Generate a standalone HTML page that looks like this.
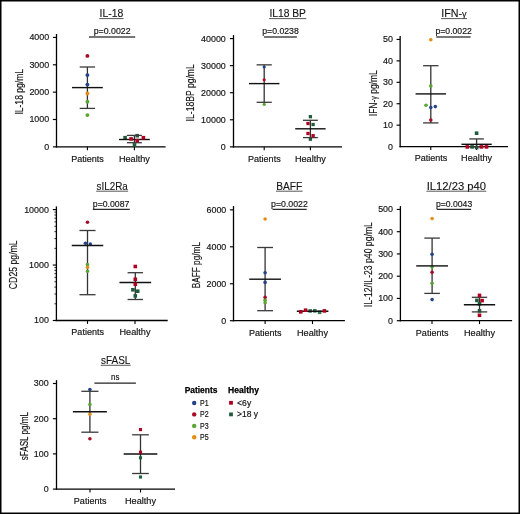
<!DOCTYPE html>
<html><head><meta charset="utf-8"><style>
html,body{margin:0;padding:0;background:#fff;}
body{width:520px;height:514px;overflow:hidden;font-family:"Liberation Sans",sans-serif;}
svg{display:block;will-change:transform;}
</style></head><body>
<svg width="520" height="514" viewBox="0 0 520 514" font-family="'Liberation Sans', sans-serif">
<rect x="0" y="0" width="520" height="514" fill="#fff"/>
<text x="111.45" y="17.3" font-size="10.5" text-anchor="middle" textLength="23.7" lengthAdjust="spacingAndGlyphs" fill="#141414" stroke="#141414" stroke-width="0.12" >IL-18</text>
<line x1="99.3" y1="18.6" x2="123.6" y2="18.6" stroke="#444" stroke-width="0.9"/>
<text x="112.15" y="33.7" font-size="9.8" text-anchor="middle" textLength="36.9" lengthAdjust="spacingAndGlyphs" fill="#141414" stroke="#141414" stroke-width="0.18" >p=0.0022</text>
<line x1="89.0" y1="36.95" x2="135.2" y2="36.95" stroke="#4a4a4a" stroke-width="1.6"/>
<line x1="56.5" y1="34.0" x2="56.5" y2="147.5" stroke="#000" stroke-width="1.3"/>
<line x1="55.85" y1="146.85" x2="165.6" y2="146.85" stroke="#000" stroke-width="1.3"/>
<line x1="52.9" y1="37.45" x2="56.5" y2="37.45" stroke="#000" stroke-width="1.15"/>
<text x="49.2" y="40.35" font-size="9.5" text-anchor="end" textLength="19.8" lengthAdjust="spacingAndGlyphs" fill="#141414" stroke="#141414" stroke-width="0.18" >4000</text>
<line x1="52.9" y1="64.8" x2="56.5" y2="64.8" stroke="#000" stroke-width="1.15"/>
<text x="49.2" y="67.7" font-size="9.5" text-anchor="end" textLength="19.8" lengthAdjust="spacingAndGlyphs" fill="#141414" stroke="#141414" stroke-width="0.18" >3000</text>
<line x1="52.9" y1="92.15" x2="56.5" y2="92.15" stroke="#000" stroke-width="1.15"/>
<text x="49.2" y="95.05" font-size="9.5" text-anchor="end" textLength="19.8" lengthAdjust="spacingAndGlyphs" fill="#141414" stroke="#141414" stroke-width="0.18" >2000</text>
<line x1="52.9" y1="119.5" x2="56.5" y2="119.5" stroke="#000" stroke-width="1.15"/>
<text x="49.2" y="122.4" font-size="9.5" text-anchor="end" textLength="19.8" lengthAdjust="spacingAndGlyphs" fill="#141414" stroke="#141414" stroke-width="0.18" >1000</text>
<line x1="52.9" y1="146.85" x2="56.5" y2="146.85" stroke="#000" stroke-width="1.15"/>
<text x="49.2" y="149.75" font-size="9.5" text-anchor="end" textLength="4.95" lengthAdjust="spacingAndGlyphs" fill="#141414" stroke="#141414" stroke-width="0.18" >0</text>
<line x1="87.4" y1="146.85" x2="87.4" y2="150.25" stroke="#000" stroke-width="1.1"/>
<line x1="134.4" y1="146.85" x2="134.4" y2="150.25" stroke="#000" stroke-width="1.1"/>
<text x="87.55" y="161.7" font-size="9.4" text-anchor="middle" textLength="32.6" lengthAdjust="spacingAndGlyphs" fill="#141414" stroke="#141414" stroke-width="0.18" >Patients</text>
<text x="134.4" y="161.7" font-size="9.4" text-anchor="middle" textLength="31.0" lengthAdjust="spacingAndGlyphs" fill="#141414" stroke="#141414" stroke-width="0.18" >Healthy</text>
<text class="yl" transform="translate(22.6,91.8) rotate(-90)" x="0" y="0" font-size="11.2" text-anchor="middle" textLength="45.6" lengthAdjust="spacingAndGlyphs" fill="#141414" stroke="#141414" stroke-width="0.18">IL-18 pg/mL</text>
<line x1="87.4" y1="67.0" x2="87.4" y2="108.4" stroke="#333" stroke-width="1.3"/>
<line x1="134.4" y1="135.4" x2="134.4" y2="142.7" stroke="#333" stroke-width="1.3"/>
<circle cx="87.4" cy="55.9" r="1.95" fill="#a80c26"/>
<circle cx="87.4" cy="75.1" r="1.95" fill="#23438a"/>
<circle cx="87.4" cy="84.6" r="1.95" fill="#23438a"/>
<circle cx="87.4" cy="93.5" r="1.95" fill="#e58c14"/>
<circle cx="87.4" cy="101.7" r="1.95" fill="#58a531"/>
<circle cx="87.4" cy="115.1" r="1.95" fill="#58a531"/>
<rect x="123.30" y="135.90" width="3.6" height="3.6" fill="#1f5c3c"/>
<rect x="135.40" y="133.90" width="3.6" height="3.6" fill="#1f5c3c"/>
<rect x="132.70" y="143.10" width="3.6" height="3.6" fill="#1f5c3c"/>
<line x1="79.7" y1="67.0" x2="95.1" y2="67.0" stroke="#3a3a3a" stroke-width="1.3"/>
<line x1="79.7" y1="108.4" x2="95.1" y2="108.4" stroke="#3a3a3a" stroke-width="1.3"/>
<line x1="72.0" y1="87.6" x2="102.8" y2="87.6" stroke="#111" stroke-width="1.4"/>
<line x1="126.9" y1="135.4" x2="141.9" y2="135.4" stroke="#3a3a3a" stroke-width="1.3"/>
<line x1="126.9" y1="142.7" x2="141.9" y2="142.7" stroke="#3a3a3a" stroke-width="1.3"/>
<line x1="119.0" y1="139.5" x2="149.8" y2="139.5" stroke="#111" stroke-width="1.4"/>
<rect x="129.30" y="137.10" width="3.6" height="3.6" fill="#b00020"/>
<rect x="135.40" y="138.80" width="3.6" height="3.6" fill="#b00020"/>
<rect x="141.60" y="135.90" width="3.6" height="3.6" fill="#b00020"/>
<text x="287.7" y="17.3" font-size="10.5" text-anchor="middle" textLength="36.6" lengthAdjust="spacingAndGlyphs" fill="#141414" stroke="#141414" stroke-width="0.12" >IL18 BP</text>
<line x1="269.1" y1="18.6" x2="306.3" y2="18.6" stroke="#444" stroke-width="0.9"/>
<text x="280.5" y="33.7" font-size="9.8" text-anchor="middle" textLength="36.6" lengthAdjust="spacingAndGlyphs" fill="#141414" stroke="#141414" stroke-width="0.18" >p=0.0238</text>
<line x1="264.0" y1="36.95" x2="296.9" y2="36.95" stroke="#4a4a4a" stroke-width="1.6"/>
<line x1="233.5" y1="35.1" x2="233.5" y2="147.5" stroke="#000" stroke-width="1.3"/>
<line x1="232.85" y1="146.85" x2="342.0" y2="146.85" stroke="#000" stroke-width="1.3"/>
<line x1="229.9" y1="38.6" x2="233.5" y2="38.6" stroke="#000" stroke-width="1.15"/>
<text x="225.8" y="41.5" font-size="9.5" text-anchor="end" textLength="24.75" lengthAdjust="spacingAndGlyphs" fill="#141414" stroke="#141414" stroke-width="0.18" >40000</text>
<line x1="229.9" y1="65.66" x2="233.5" y2="65.66" stroke="#000" stroke-width="1.15"/>
<text x="225.8" y="68.56" font-size="9.5" text-anchor="end" textLength="24.75" lengthAdjust="spacingAndGlyphs" fill="#141414" stroke="#141414" stroke-width="0.18" >30000</text>
<line x1="229.9" y1="92.72" x2="233.5" y2="92.72" stroke="#000" stroke-width="1.15"/>
<text x="225.8" y="95.62" font-size="9.5" text-anchor="end" textLength="24.75" lengthAdjust="spacingAndGlyphs" fill="#141414" stroke="#141414" stroke-width="0.18" >20000</text>
<line x1="229.9" y1="119.79" x2="233.5" y2="119.79" stroke="#000" stroke-width="1.15"/>
<text x="225.8" y="122.69" font-size="9.5" text-anchor="end" textLength="24.75" lengthAdjust="spacingAndGlyphs" fill="#141414" stroke="#141414" stroke-width="0.18" >10000</text>
<line x1="229.9" y1="146.85" x2="233.5" y2="146.85" stroke="#000" stroke-width="1.15"/>
<text x="225.8" y="149.75" font-size="9.5" text-anchor="end" textLength="4.95" lengthAdjust="spacingAndGlyphs" fill="#141414" stroke="#141414" stroke-width="0.18" >0</text>
<line x1="264.2" y1="146.85" x2="264.2" y2="150.25" stroke="#000" stroke-width="1.1"/>
<line x1="310.4" y1="146.85" x2="310.4" y2="150.25" stroke="#000" stroke-width="1.1"/>
<text x="264.35" y="161.7" font-size="9.4" text-anchor="middle" textLength="32.6" lengthAdjust="spacingAndGlyphs" fill="#141414" stroke="#141414" stroke-width="0.18" >Patients</text>
<text x="310.4" y="161.7" font-size="9.4" text-anchor="middle" textLength="31.0" lengthAdjust="spacingAndGlyphs" fill="#141414" stroke="#141414" stroke-width="0.18" >Healthy</text>
<text class="yl" transform="translate(194.4,92.80000000000001) rotate(-90)" x="0" y="0" font-size="11.2" text-anchor="middle" textLength="57.2" lengthAdjust="spacingAndGlyphs" fill="#141414" stroke="#141414" stroke-width="0.18">IL-18BP pg/mL</text>
<line x1="264.2" y1="64.85" x2="264.2" y2="102.3" stroke="#333" stroke-width="1.3"/>
<line x1="310.4" y1="120.3" x2="310.4" y2="137.6" stroke="#333" stroke-width="1.3"/>
<circle cx="264.2" cy="67.0" r="1.6" fill="#23438a"/>
<circle cx="264.2" cy="79.8" r="1.6" fill="#a80c26"/>
<circle cx="264.2" cy="104.3" r="1.6" fill="#58a531"/>
<rect x="308.75" y="115.05" width="3.3" height="3.3" fill="#1f5c3c"/>
<rect x="311.45" y="122.85" width="3.3" height="3.3" fill="#1f5c3c"/>
<rect x="308.75" y="137.55" width="3.3" height="3.3" fill="#1f5c3c"/>
<line x1="256.6" y1="64.85" x2="271.8" y2="64.85" stroke="#3a3a3a" stroke-width="1.3"/>
<line x1="256.6" y1="102.3" x2="271.8" y2="102.3" stroke="#3a3a3a" stroke-width="1.3"/>
<line x1="248.95" y1="83.6" x2="279.45" y2="83.6" stroke="#111" stroke-width="1.4"/>
<line x1="302.95" y1="120.3" x2="317.85" y2="120.3" stroke="#3a3a3a" stroke-width="1.3"/>
<line x1="302.95" y1="137.6" x2="317.85" y2="137.6" stroke="#3a3a3a" stroke-width="1.3"/>
<line x1="295.2" y1="128.8" x2="325.6" y2="128.8" stroke="#111" stroke-width="1.4"/>
<rect x="306.35" y="121.85" width="3.3" height="3.3" fill="#b00020"/>
<rect x="306.35" y="131.85" width="3.3" height="3.3" fill="#b00020"/>
<rect x="311.45" y="134.05" width="3.3" height="3.3" fill="#b00020"/>
<text x="454.0" y="17.3" font-size="10.5" text-anchor="middle" textLength="25.4" lengthAdjust="spacingAndGlyphs" fill="#141414" stroke="#141414" stroke-width="0.12" >IFN-<tspan font-size="9">γ</tspan></text>
<line x1="441.0" y1="18.6" x2="467.0" y2="18.6" stroke="#444" stroke-width="0.9"/>
<text x="453.65" y="33.7" font-size="9.8" text-anchor="middle" textLength="36.3" lengthAdjust="spacingAndGlyphs" fill="#141414" stroke="#141414" stroke-width="0.18" >p=0.0022</text>
<line x1="436.3" y1="36.95" x2="470.6" y2="36.95" stroke="#4a4a4a" stroke-width="1.6"/>
<line x1="400.15" y1="36.0" x2="400.15" y2="147.25" stroke="#000" stroke-width="1.3"/>
<line x1="399.5" y1="146.6" x2="508.1" y2="146.6" stroke="#000" stroke-width="1.3"/>
<line x1="396.55" y1="39.45" x2="400.15" y2="39.45" stroke="#000" stroke-width="1.15"/>
<text x="393.0" y="42.35" font-size="9.5" text-anchor="end" textLength="9.9" lengthAdjust="spacingAndGlyphs" fill="#141414" stroke="#141414" stroke-width="0.18" >50</text>
<line x1="396.55" y1="60.88" x2="400.15" y2="60.88" stroke="#000" stroke-width="1.15"/>
<text x="393.0" y="63.78" font-size="9.5" text-anchor="end" textLength="9.9" lengthAdjust="spacingAndGlyphs" fill="#141414" stroke="#141414" stroke-width="0.18" >40</text>
<line x1="396.55" y1="82.31" x2="400.15" y2="82.31" stroke="#000" stroke-width="1.15"/>
<text x="393.0" y="85.21" font-size="9.5" text-anchor="end" textLength="9.9" lengthAdjust="spacingAndGlyphs" fill="#141414" stroke="#141414" stroke-width="0.18" >30</text>
<line x1="396.55" y1="103.74" x2="400.15" y2="103.74" stroke="#000" stroke-width="1.15"/>
<text x="393.0" y="106.64" font-size="9.5" text-anchor="end" textLength="9.9" lengthAdjust="spacingAndGlyphs" fill="#141414" stroke="#141414" stroke-width="0.18" >20</text>
<line x1="396.55" y1="125.17" x2="400.15" y2="125.17" stroke="#000" stroke-width="1.15"/>
<text x="393.0" y="128.07" font-size="9.5" text-anchor="end" textLength="9.9" lengthAdjust="spacingAndGlyphs" fill="#141414" stroke="#141414" stroke-width="0.18" >10</text>
<text x="393.0" y="149.5" font-size="9.5" text-anchor="end" textLength="4.95" lengthAdjust="spacingAndGlyphs" fill="#141414" stroke="#141414" stroke-width="0.18" >0</text>
<line x1="430.8" y1="146.6" x2="430.8" y2="150.0" stroke="#000" stroke-width="1.1"/>
<line x1="476.6" y1="146.6" x2="476.6" y2="150.0" stroke="#000" stroke-width="1.1"/>
<text x="430.95" y="161.45" font-size="9.4" text-anchor="middle" textLength="32.6" lengthAdjust="spacingAndGlyphs" fill="#141414" stroke="#141414" stroke-width="0.18" >Patients</text>
<text x="476.6" y="161.45" font-size="9.4" text-anchor="middle" textLength="31.0" lengthAdjust="spacingAndGlyphs" fill="#141414" stroke="#141414" stroke-width="0.18" >Healthy</text>
<text class="yl" transform="translate(376.5,93.25) rotate(-90)" x="0" y="0" font-size="11.2" text-anchor="middle" textLength="45.9" lengthAdjust="spacingAndGlyphs" fill="#141414" stroke="#141414" stroke-width="0.18">IFN-<tspan font-size="9.5">γ</tspan> pg/mL</text>
<line x1="430.8" y1="65.7" x2="430.8" y2="122.9" stroke="#333" stroke-width="1.3"/>
<line x1="476.6" y1="138.9" x2="476.6" y2="146.8" stroke="#333" stroke-width="1.3"/>
<circle cx="430.8" cy="39.7" r="1.8" fill="#e58c14"/>
<circle cx="430.8" cy="85.9" r="1.8" fill="#58a531"/>
<circle cx="426.0" cy="105.2" r="1.8" fill="#58a531"/>
<circle cx="430.8" cy="107.5" r="1.8" fill="#23438a"/>
<circle cx="435.3" cy="106.6" r="1.8" fill="#23438a"/>
<circle cx="430.8" cy="120.0" r="1.8" fill="#a80c26"/>
<rect x="474.80" y="131.40" width="3.6" height="3.6" fill="#1f5c3c"/>
<rect x="470.30" y="145.10" width="3.6" height="3.6" fill="#1f5c3c"/>
<rect x="474.80" y="145.70" width="3.6" height="3.6" fill="#1f5c3c"/>
<line x1="423.1" y1="65.7" x2="438.5" y2="65.7" stroke="#3a3a3a" stroke-width="1.3"/>
<line x1="423.1" y1="122.9" x2="438.5" y2="122.9" stroke="#3a3a3a" stroke-width="1.3"/>
<line x1="415.55" y1="93.9" x2="446.05" y2="93.9" stroke="#111" stroke-width="1.4"/>
<line x1="469.3" y1="138.9" x2="483.9" y2="138.9" stroke="#3a3a3a" stroke-width="1.3"/>
<line x1="469.3" y1="146.8" x2="483.9" y2="146.8" stroke="#3a3a3a" stroke-width="1.3"/>
<line x1="461.45" y1="144.3" x2="491.75" y2="144.3" stroke="#111" stroke-width="1.4"/>
<rect x="465.50" y="145.10" width="3.6" height="3.6" fill="#b00020"/>
<rect x="479.60" y="145.10" width="3.6" height="3.6" fill="#b00020"/>
<rect x="484.70" y="145.10" width="3.6" height="3.6" fill="#b00020"/>
<text x="112.15" y="189.9" font-size="10.5" text-anchor="middle" textLength="31.3" lengthAdjust="spacingAndGlyphs" fill="#141414" stroke="#141414" stroke-width="0.12" >sIL2Ra</text>
<line x1="96.2" y1="191.2" x2="128.1" y2="191.2" stroke="#444" stroke-width="0.9"/>
<text x="111.1" y="206.5" font-size="9.8" text-anchor="middle" textLength="36.6" lengthAdjust="spacingAndGlyphs" fill="#141414" stroke="#141414" stroke-width="0.18" >p=0.0087</text>
<line x1="92.8" y1="209.4" x2="129.8" y2="209.4" stroke="#2a2a2a" stroke-width="1.3"/>
<line x1="56.4" y1="206.4" x2="56.4" y2="321.15" stroke="#000" stroke-width="1.3"/>
<line x1="55.75" y1="320.5" x2="167.7" y2="320.5" stroke="#000" stroke-width="1.3"/>
<line x1="52.8" y1="209.6" x2="56.4" y2="209.6" stroke="#000" stroke-width="1.15"/>
<text x="48.9" y="212.5" font-size="9.5" text-anchor="end" textLength="24.75" lengthAdjust="spacingAndGlyphs" fill="#141414" stroke="#141414" stroke-width="0.18" >10000</text>
<line x1="52.8" y1="265.05" x2="56.4" y2="265.05" stroke="#000" stroke-width="1.15"/>
<text x="48.9" y="267.95" font-size="9.5" text-anchor="end" textLength="19.8" lengthAdjust="spacingAndGlyphs" fill="#141414" stroke="#141414" stroke-width="0.18" >1000</text>
<line x1="52.8" y1="320.5" x2="56.4" y2="320.5" stroke="#000" stroke-width="1.15"/>
<text x="48.9" y="323.4" font-size="9.5" text-anchor="end" textLength="14.85" lengthAdjust="spacingAndGlyphs" fill="#141414" stroke="#141414" stroke-width="0.18" >100</text>
<line x1="54.4" y1="248.36" x2="56.4" y2="248.36" stroke="#000" stroke-width="0.8"/>
<line x1="54.4" y1="238.59" x2="56.4" y2="238.59" stroke="#000" stroke-width="0.8"/>
<line x1="54.4" y1="231.67" x2="56.4" y2="231.67" stroke="#000" stroke-width="0.8"/>
<line x1="54.4" y1="226.29" x2="56.4" y2="226.29" stroke="#000" stroke-width="0.8"/>
<line x1="54.4" y1="221.9" x2="56.4" y2="221.9" stroke="#000" stroke-width="0.8"/>
<line x1="54.4" y1="218.19" x2="56.4" y2="218.19" stroke="#000" stroke-width="0.8"/>
<line x1="54.4" y1="214.97" x2="56.4" y2="214.97" stroke="#000" stroke-width="0.8"/>
<line x1="54.4" y1="212.14" x2="56.4" y2="212.14" stroke="#000" stroke-width="0.8"/>
<line x1="54.4" y1="303.81" x2="56.4" y2="303.81" stroke="#000" stroke-width="0.8"/>
<line x1="54.4" y1="294.04" x2="56.4" y2="294.04" stroke="#000" stroke-width="0.8"/>
<line x1="54.4" y1="287.12" x2="56.4" y2="287.12" stroke="#000" stroke-width="0.8"/>
<line x1="54.4" y1="281.74" x2="56.4" y2="281.74" stroke="#000" stroke-width="0.8"/>
<line x1="54.4" y1="277.35" x2="56.4" y2="277.35" stroke="#000" stroke-width="0.8"/>
<line x1="54.4" y1="273.64" x2="56.4" y2="273.64" stroke="#000" stroke-width="0.8"/>
<line x1="54.4" y1="270.42" x2="56.4" y2="270.42" stroke="#000" stroke-width="0.8"/>
<line x1="54.4" y1="267.59" x2="56.4" y2="267.59" stroke="#000" stroke-width="0.8"/>
<line x1="87.5" y1="320.5" x2="87.5" y2="323.9" stroke="#000" stroke-width="1.1"/>
<line x1="135.0" y1="320.5" x2="135.0" y2="323.9" stroke="#000" stroke-width="1.1"/>
<text x="87.65" y="335.35" font-size="9.4" text-anchor="middle" textLength="32.6" lengthAdjust="spacingAndGlyphs" fill="#141414" stroke="#141414" stroke-width="0.18" >Patients</text>
<text x="135.0" y="335.35" font-size="9.4" text-anchor="middle" textLength="31.0" lengthAdjust="spacingAndGlyphs" fill="#141414" stroke="#141414" stroke-width="0.18" >Healthy</text>
<text class="yl" transform="translate(17.4,264.75) rotate(-90)" x="0" y="0" font-size="11.2" text-anchor="middle" textLength="48.9" lengthAdjust="spacingAndGlyphs" fill="#141414" stroke="#141414" stroke-width="0.18">CD25 pg/mL</text>
<line x1="87.5" y1="230.5" x2="87.5" y2="294.7" stroke="#333" stroke-width="1.3"/>
<line x1="135.3" y1="272.7" x2="135.3" y2="299.5" stroke="#333" stroke-width="1.3"/>
<circle cx="87.5" cy="222.2" r="1.8" fill="#a80c26"/>
<circle cx="85.4" cy="243.2" r="1.8" fill="#23438a"/>
<circle cx="90.3" cy="244.1" r="1.8" fill="#23438a"/>
<circle cx="87.5" cy="264.6" r="1.8" fill="#58a531"/>
<circle cx="87.5" cy="267.2" r="1.8" fill="#e58c14"/>
<circle cx="87.5" cy="271.2" r="1.8" fill="#58a531"/>
<rect x="131.10" y="288.00" width="3.6" height="3.6" fill="#1f5c3c"/>
<rect x="135.90" y="289.40" width="3.6" height="3.6" fill="#1f5c3c"/>
<rect x="133.50" y="294.10" width="3.6" height="3.6" fill="#1f5c3c"/>
<line x1="79.45" y1="230.5" x2="95.55" y2="230.5" stroke="#3a3a3a" stroke-width="1.3"/>
<line x1="79.45" y1="294.7" x2="95.55" y2="294.7" stroke="#3a3a3a" stroke-width="1.3"/>
<line x1="71.75" y1="245.5" x2="103.25" y2="245.5" stroke="#111" stroke-width="1.4"/>
<line x1="127.6" y1="272.7" x2="143.0" y2="272.7" stroke="#3a3a3a" stroke-width="1.3"/>
<line x1="127.6" y1="299.5" x2="143.0" y2="299.5" stroke="#3a3a3a" stroke-width="1.3"/>
<line x1="119.45" y1="282.5" x2="151.15" y2="282.5" stroke="#111" stroke-width="1.4"/>
<rect x="133.50" y="264.70" width="3.6" height="3.6" fill="#b00020"/>
<rect x="133.50" y="277.50" width="3.6" height="3.6" fill="#b00020"/>
<rect x="133.50" y="282.40" width="3.6" height="3.6" fill="#b00020"/>
<text x="289.3" y="189.7" font-size="10.5" text-anchor="middle" textLength="26.0" lengthAdjust="spacingAndGlyphs" fill="#141414" stroke="#141414" stroke-width="0.12" >BAFF</text>
<line x1="276.0" y1="191.2" x2="302.6" y2="191.2" stroke="#444" stroke-width="0.9"/>
<text x="289.45" y="206.5" font-size="9.8" text-anchor="middle" textLength="36.9" lengthAdjust="spacingAndGlyphs" fill="#141414" stroke="#141414" stroke-width="0.18" >p=0.0022</text>
<line x1="272.5" y1="209.4" x2="306.7" y2="209.4" stroke="#2a2a2a" stroke-width="1.3"/>
<line x1="233.5" y1="206.1" x2="233.5" y2="321.35" stroke="#000" stroke-width="1.3"/>
<line x1="232.85" y1="320.7" x2="344.9" y2="320.7" stroke="#000" stroke-width="1.3"/>
<line x1="229.9" y1="209.85" x2="233.5" y2="209.85" stroke="#000" stroke-width="1.15"/>
<text x="226.3" y="212.75" font-size="9.5" text-anchor="end" textLength="19.8" lengthAdjust="spacingAndGlyphs" fill="#141414" stroke="#141414" stroke-width="0.18" >6000</text>
<line x1="229.9" y1="246.8" x2="233.5" y2="246.8" stroke="#000" stroke-width="1.15"/>
<text x="226.3" y="249.7" font-size="9.5" text-anchor="end" textLength="19.8" lengthAdjust="spacingAndGlyphs" fill="#141414" stroke="#141414" stroke-width="0.18" >4000</text>
<line x1="229.9" y1="283.75" x2="233.5" y2="283.75" stroke="#000" stroke-width="1.15"/>
<text x="226.3" y="286.65" font-size="9.5" text-anchor="end" textLength="19.8" lengthAdjust="spacingAndGlyphs" fill="#141414" stroke="#141414" stroke-width="0.18" >2000</text>
<line x1="229.9" y1="320.7" x2="233.5" y2="320.7" stroke="#000" stroke-width="1.15"/>
<text x="226.3" y="323.6" font-size="9.5" text-anchor="end" textLength="4.95" lengthAdjust="spacingAndGlyphs" fill="#141414" stroke="#141414" stroke-width="0.18" >0</text>
<line x1="265.1" y1="320.7" x2="265.1" y2="324.1" stroke="#000" stroke-width="1.1"/>
<line x1="312.5" y1="320.7" x2="312.5" y2="324.1" stroke="#000" stroke-width="1.1"/>
<text x="265.25" y="335.55" font-size="9.4" text-anchor="middle" textLength="32.6" lengthAdjust="spacingAndGlyphs" fill="#141414" stroke="#141414" stroke-width="0.18" >Patients</text>
<text x="312.5" y="335.55" font-size="9.4" text-anchor="middle" textLength="31.0" lengthAdjust="spacingAndGlyphs" fill="#141414" stroke="#141414" stroke-width="0.18" >Healthy</text>
<text class="yl" transform="translate(200.1,265.15) rotate(-90)" x="0" y="0" font-size="11.2" text-anchor="middle" textLength="46.3" lengthAdjust="spacingAndGlyphs" fill="#141414" stroke="#141414" stroke-width="0.18">BAFF pg/mL</text>
<line x1="265.1" y1="247.5" x2="265.1" y2="310.7" stroke="#333" stroke-width="1.3"/>
<line x1="312.6" y1="311.3" x2="312.6" y2="311.3" stroke="#333" stroke-width="1.3"/>
<circle cx="265.1" cy="219.0" r="1.8" fill="#e58c14"/>
<circle cx="265.1" cy="272.8" r="1.8" fill="#23438a"/>
<circle cx="265.1" cy="282.4" r="1.8" fill="#23438a"/>
<circle cx="265.1" cy="297.4" r="1.8" fill="#a80c26"/>
<circle cx="265.1" cy="300.3" r="1.8" fill="#58a531"/>
<circle cx="265.1" cy="302.7" r="1.8" fill="#58a531"/>
<rect x="308.40" y="309.10" width="3.6" height="3.6" fill="#347656"/>
<rect x="313.00" y="309.00" width="3.6" height="3.6" fill="#347656"/>
<rect x="317.80" y="310.50" width="3.6" height="3.6" fill="#347656"/>
<line x1="257.2" y1="247.5" x2="273.0" y2="247.5" stroke="#3a3a3a" stroke-width="1.3"/>
<line x1="257.2" y1="310.7" x2="273.0" y2="310.7" stroke="#3a3a3a" stroke-width="1.3"/>
<line x1="249.25" y1="279.2" x2="280.95" y2="279.2" stroke="#111" stroke-width="1.4"/>
<line x1="296.8" y1="311.3" x2="328.4" y2="311.3" stroke="#111" stroke-width="1.4"/>
<rect x="299.00" y="310.00" width="3.6" height="3.6" fill="#b00020"/>
<rect x="303.80" y="308.40" width="3.6" height="3.6" fill="#b00020"/>
<rect x="322.60" y="309.10" width="3.6" height="3.6" fill="#b00020"/>
<text x="456.35" y="189.8" font-size="10.5" text-anchor="middle" textLength="59.3" lengthAdjust="spacingAndGlyphs" fill="#141414" stroke="#141414" stroke-width="0.12" >IL12/23 p40</text>
<line x1="426.4" y1="191.2" x2="486.3" y2="191.2" stroke="#444" stroke-width="0.9"/>
<text x="454.05" y="206.5" font-size="9.8" text-anchor="middle" textLength="36.3" lengthAdjust="spacingAndGlyphs" fill="#141414" stroke="#141414" stroke-width="0.18" >p=0.0043</text>
<line x1="436.8" y1="209.4" x2="471.1" y2="209.4" stroke="#2a2a2a" stroke-width="1.3"/>
<line x1="400.4" y1="206.1" x2="400.4" y2="321.35" stroke="#000" stroke-width="1.3"/>
<line x1="399.75" y1="320.7" x2="512.1" y2="320.7" stroke="#000" stroke-width="1.3"/>
<line x1="396.8" y1="209.45" x2="400.4" y2="209.45" stroke="#000" stroke-width="1.15"/>
<text x="393.0" y="212.35" font-size="9.5" text-anchor="end" textLength="14.85" lengthAdjust="spacingAndGlyphs" fill="#141414" stroke="#141414" stroke-width="0.18" >500</text>
<line x1="396.8" y1="231.7" x2="400.4" y2="231.7" stroke="#000" stroke-width="1.15"/>
<text x="393.0" y="234.6" font-size="9.5" text-anchor="end" textLength="14.85" lengthAdjust="spacingAndGlyphs" fill="#141414" stroke="#141414" stroke-width="0.18" >400</text>
<line x1="396.8" y1="253.95" x2="400.4" y2="253.95" stroke="#000" stroke-width="1.15"/>
<text x="393.0" y="256.85" font-size="9.5" text-anchor="end" textLength="14.85" lengthAdjust="spacingAndGlyphs" fill="#141414" stroke="#141414" stroke-width="0.18" >300</text>
<line x1="396.8" y1="276.2" x2="400.4" y2="276.2" stroke="#000" stroke-width="1.15"/>
<text x="393.0" y="279.1" font-size="9.5" text-anchor="end" textLength="14.85" lengthAdjust="spacingAndGlyphs" fill="#141414" stroke="#141414" stroke-width="0.18" >200</text>
<line x1="396.8" y1="298.45" x2="400.4" y2="298.45" stroke="#000" stroke-width="1.15"/>
<text x="393.0" y="301.35" font-size="9.5" text-anchor="end" textLength="14.85" lengthAdjust="spacingAndGlyphs" fill="#141414" stroke="#141414" stroke-width="0.18" >100</text>
<line x1="396.8" y1="320.7" x2="400.4" y2="320.7" stroke="#000" stroke-width="1.15"/>
<text x="393.0" y="323.6" font-size="9.5" text-anchor="end" textLength="4.95" lengthAdjust="spacingAndGlyphs" fill="#141414" stroke="#141414" stroke-width="0.18" >0</text>
<line x1="432.0" y1="320.7" x2="432.0" y2="324.1" stroke="#000" stroke-width="1.1"/>
<line x1="479.5" y1="320.7" x2="479.5" y2="324.1" stroke="#000" stroke-width="1.1"/>
<text x="432.15" y="335.55" font-size="9.4" text-anchor="middle" textLength="32.6" lengthAdjust="spacingAndGlyphs" fill="#141414" stroke="#141414" stroke-width="0.18" >Patients</text>
<text x="479.5" y="335.55" font-size="9.4" text-anchor="middle" textLength="31.0" lengthAdjust="spacingAndGlyphs" fill="#141414" stroke="#141414" stroke-width="0.18" >Healthy</text>
<text class="yl" transform="translate(372.4,264.65) rotate(-90)" x="0" y="0" font-size="11.2" text-anchor="middle" textLength="85.1" lengthAdjust="spacingAndGlyphs" fill="#141414" stroke="#141414" stroke-width="0.18">IL-12/IL-23 p40 pg/mL</text>
<line x1="432.1" y1="238.1" x2="432.1" y2="293.4" stroke="#333" stroke-width="1.3"/>
<line x1="479.5" y1="297.3" x2="479.5" y2="311.9" stroke="#333" stroke-width="1.3"/>
<circle cx="432.1" cy="218.6" r="1.8" fill="#e58c14"/>
<circle cx="432.1" cy="254.2" r="1.8" fill="#23438a"/>
<circle cx="432.1" cy="267.1" r="1.8" fill="#58a531"/>
<circle cx="432.1" cy="272.3" r="1.8" fill="#a80c26"/>
<circle cx="432.1" cy="283.3" r="1.8" fill="#58a531"/>
<circle cx="432.1" cy="299.6" r="1.8" fill="#23438a"/>
<rect x="475.10" y="298.60" width="3.6" height="3.6" fill="#1f5c3c"/>
<rect x="477.70" y="302.00" width="3.6" height="3.6" fill="#1f5c3c"/>
<rect x="477.70" y="309.00" width="3.6" height="3.6" fill="#1f5c3c"/>
<line x1="424.3" y1="238.1" x2="439.9" y2="238.1" stroke="#3a3a3a" stroke-width="1.3"/>
<line x1="424.3" y1="293.4" x2="439.9" y2="293.4" stroke="#3a3a3a" stroke-width="1.3"/>
<line x1="416.2" y1="265.9" x2="448.0" y2="265.9" stroke="#111" stroke-width="1.4"/>
<line x1="471.8" y1="297.3" x2="487.2" y2="297.3" stroke="#3a3a3a" stroke-width="1.3"/>
<line x1="471.8" y1="311.9" x2="487.2" y2="311.9" stroke="#3a3a3a" stroke-width="1.3"/>
<line x1="463.85" y1="304.7" x2="495.15" y2="304.7" stroke="#111" stroke-width="1.4"/>
<rect x="477.70" y="293.60" width="3.6" height="3.6" fill="#b00020"/>
<rect x="480.30" y="298.80" width="3.6" height="3.6" fill="#b00020"/>
<rect x="477.70" y="313.50" width="3.6" height="3.6" fill="#b00020"/>
<text x="115.7" y="364.1" font-size="10.5" text-anchor="middle" textLength="29.4" lengthAdjust="spacingAndGlyphs" fill="#141414" stroke="#141414" stroke-width="0.12" >sFASL</text>
<line x1="100.7" y1="365.3" x2="130.7" y2="365.3" stroke="#444" stroke-width="0.9"/>
<text x="115.2" y="379.8" font-size="9.8" text-anchor="middle" textLength="8.4" lengthAdjust="spacingAndGlyphs" fill="#141414" stroke="#141414" stroke-width="0.18" >ns</text>
<line x1="94.4" y1="383.2" x2="135.9" y2="383.2" stroke="#222" stroke-width="1.2"/>
<line x1="56.5" y1="380.15" x2="56.5" y2="489.75" stroke="#000" stroke-width="1.3"/>
<line x1="55.85" y1="489.1" x2="175.0" y2="489.1" stroke="#000" stroke-width="1.3"/>
<line x1="52.9" y1="383.5" x2="56.5" y2="383.5" stroke="#000" stroke-width="1.15"/>
<text x="48.6" y="386.4" font-size="9.5" text-anchor="end" textLength="14.85" lengthAdjust="spacingAndGlyphs" fill="#141414" stroke="#141414" stroke-width="0.18" >300</text>
<line x1="52.9" y1="418.7" x2="56.5" y2="418.7" stroke="#000" stroke-width="1.15"/>
<text x="48.6" y="421.6" font-size="9.5" text-anchor="end" textLength="14.85" lengthAdjust="spacingAndGlyphs" fill="#141414" stroke="#141414" stroke-width="0.18" >200</text>
<line x1="52.9" y1="453.9" x2="56.5" y2="453.9" stroke="#000" stroke-width="1.15"/>
<text x="48.6" y="456.8" font-size="9.5" text-anchor="end" textLength="14.85" lengthAdjust="spacingAndGlyphs" fill="#141414" stroke="#141414" stroke-width="0.18" >100</text>
<line x1="52.9" y1="489.1" x2="56.5" y2="489.1" stroke="#000" stroke-width="1.15"/>
<text x="48.6" y="492.0" font-size="9.5" text-anchor="end" textLength="4.95" lengthAdjust="spacingAndGlyphs" fill="#141414" stroke="#141414" stroke-width="0.18" >0</text>
<line x1="90.0" y1="489.1" x2="90.0" y2="492.5" stroke="#000" stroke-width="1.1"/>
<line x1="140.5" y1="489.1" x2="140.5" y2="492.5" stroke="#000" stroke-width="1.1"/>
<text x="90.15" y="503.95" font-size="9.4" text-anchor="middle" textLength="32.6" lengthAdjust="spacingAndGlyphs" fill="#141414" stroke="#141414" stroke-width="0.18" >Patients</text>
<text x="140.5" y="503.95" font-size="9.4" text-anchor="middle" textLength="31.0" lengthAdjust="spacingAndGlyphs" fill="#141414" stroke="#141414" stroke-width="0.18" >Healthy</text>
<text class="yl" transform="translate(27.6,436.15) rotate(-90)" x="0" y="0" font-size="11.2" text-anchor="middle" textLength="48.3" lengthAdjust="spacingAndGlyphs" fill="#141414" stroke="#141414" stroke-width="0.18">sFASL pg/mL</text>
<line x1="89.9" y1="391.3" x2="89.9" y2="432.2" stroke="#333" stroke-width="1.3"/>
<line x1="140.5" y1="434.8" x2="140.5" y2="473.5" stroke="#333" stroke-width="1.3"/>
<circle cx="89.9" cy="389.5" r="1.8" fill="#23438a"/>
<circle cx="89.9" cy="404.5" r="1.8" fill="#58a531"/>
<circle cx="89.9" cy="414.3" r="1.8" fill="#e58c14"/>
<circle cx="89.9" cy="438.8" r="1.8" fill="#a80c26"/>
<rect x="138.95" y="456.25" width="3.1" height="3.1" fill="#1f5c3c"/>
<rect x="138.95" y="475.45" width="3.1" height="3.1" fill="#1f5c3c"/>
<line x1="81.35" y1="391.3" x2="98.45" y2="391.3" stroke="#3a3a3a" stroke-width="1.3"/>
<line x1="81.35" y1="432.2" x2="98.45" y2="432.2" stroke="#3a3a3a" stroke-width="1.3"/>
<line x1="72.9" y1="411.8" x2="106.9" y2="411.8" stroke="#111" stroke-width="1.4"/>
<line x1="132.15" y1="434.8" x2="148.85" y2="434.8" stroke="#3a3a3a" stroke-width="1.3"/>
<line x1="132.15" y1="473.5" x2="148.85" y2="473.5" stroke="#3a3a3a" stroke-width="1.3"/>
<line x1="123.65" y1="454.0" x2="157.35" y2="454.0" stroke="#111" stroke-width="1.4"/>
<rect x="138.95" y="428.05" width="3.1" height="3.1" fill="#b00020"/>
<rect x="138.95" y="450.65" width="3.1" height="3.1" fill="#b00020"/>
<text x="184.7" y="392.6" font-size="8.6" text-anchor="start" font-weight="bold" textLength="32.7" lengthAdjust="spacingAndGlyphs" fill="#000" stroke="#000" stroke-width="0.25">Patients</text>
<text x="228.1" y="392.6" font-size="8.6" text-anchor="start" font-weight="bold" textLength="30.9" lengthAdjust="spacingAndGlyphs" fill="#000" stroke="#000" stroke-width="0.25">Healthy</text>
<circle cx="194.2" cy="403.0" r="2.2" fill="#23438a"/>
<text x="200.0" y="406.0" font-size="8.5" text-anchor="start" textLength="8.6" lengthAdjust="spacingAndGlyphs" fill="#141414" stroke="#141414" stroke-width="0.18" >P1</text>
<circle cx="194.2" cy="414.4" r="2.2" fill="#a80c26"/>
<text x="200.0" y="417.4" font-size="8.5" text-anchor="start" textLength="8.6" lengthAdjust="spacingAndGlyphs" fill="#141414" stroke="#141414" stroke-width="0.18" >P2</text>
<circle cx="194.2" cy="425.9" r="2.2" fill="#58a531"/>
<text x="200.0" y="428.9" font-size="8.5" text-anchor="start" textLength="8.6" lengthAdjust="spacingAndGlyphs" fill="#141414" stroke="#141414" stroke-width="0.18" >P3</text>
<circle cx="194.2" cy="437.2" r="2.2" fill="#e58c14"/>
<text x="200.0" y="440.2" font-size="8.5" text-anchor="start" textLength="8.6" lengthAdjust="spacingAndGlyphs" fill="#141414" stroke="#141414" stroke-width="0.18" >P5</text>
<rect x="229.10" y="400.90" width="3.8" height="3.8" fill="#b00020"/>
<text x="237.1" y="405.8" font-size="8.5" text-anchor="start" textLength="14.1" lengthAdjust="spacingAndGlyphs" fill="#141414" stroke="#141414" stroke-width="0.18" >&lt;6y</text>
<rect x="229.10" y="412.50" width="3.8" height="3.8" fill="#1f5c3c"/>
<text x="237.1" y="417.4" font-size="8.5" text-anchor="start" textLength="21.0" lengthAdjust="spacingAndGlyphs" fill="#141414" stroke="#141414" stroke-width="0.18" >&gt;18 y</text>
<rect x="0.75" y="0.75" width="518.5" height="512.5" fill="none" stroke="#000" stroke-width="1.5"/>
</svg>
</body></html>
